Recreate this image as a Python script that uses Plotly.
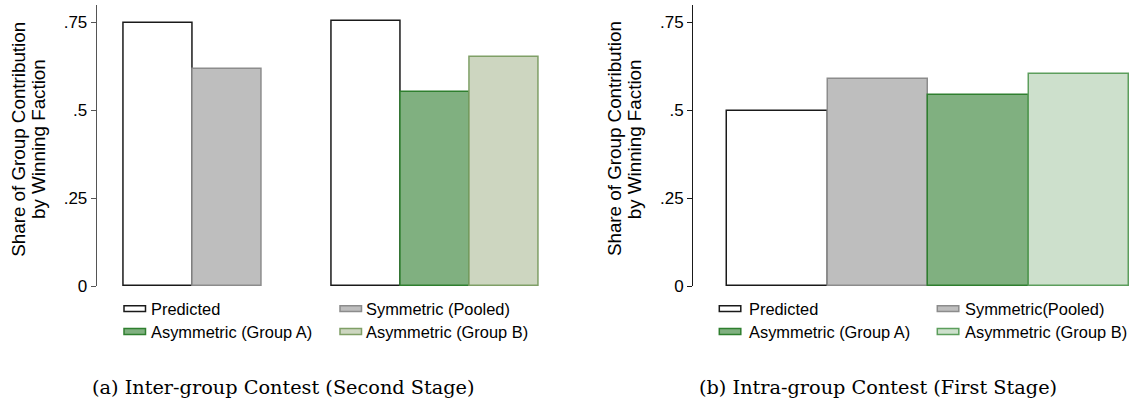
import plotly.graph_objects as go

# ---------------- data ----------------
series_names = ["Predicted", "Symmetric (Pooled)", "Asymmetric (Group A)", "Asymmetric (Group B)"]
series_names_b = ["Predicted", "Symmetric(Pooled)", "Asymmetric (Group A)", "Asymmetric (Group B)"]

# (a) Inter-group contest: symmetric treatment group, then asymmetric treatment group
inter_predicted = [0.748, 0.754]
inter_symmetric = [0.617]
inter_asym_a = [0.553]
inter_asym_b = [0.653]

# (b) Intra-group contest
intra_values = [0.500, 0.591, 0.544, 0.604]

y_ticks = [0, 0.25, 0.5, 0.75]
y_tick_labels = ["0", ".25", ".5", ".75"]

y_title_lines = ["Share of Group Contribution", "by Winning Faction"]
captions = ["(a) Inter-group Contest (Second Stage)", "(b) Intra-group Contest (First Stage)"]

# ---------------- styles ----------------
W, H = 1134, 415
fills_a = ["#ffffff", "#bebebe", "#80b080", "#cdd6c0"]
lines_a = ["#1a1a1a", "#8c8c8c", "#2f7f2f", "#7f9f66"]
fills_b = ["#ffffff", "#bebebe", "#80b080", "#cde0cc"]
lines_b = ["#1a1a1a", "#8c8c8c", "#2f7f2f", "#5c9e5c"]
SANS = "Liberation Sans, Arial, sans-serif"
SERIF = "DejaVu Serif, serif"


def px(x):
    return x / W


def py(y):
    return 1 - y / H


fig = go.Figure()

# bar positions (layout): group 1 -> slots 0,1 ; gap ; group 2 -> slots 3,4,5
pos_pred = [0, 3]
pos_sym = [1]
pos_a = [4]
pos_b = [5]

for name, xs, ys, fc, lc in [
    (series_names[0], pos_pred, inter_predicted, fills_a[0], lines_a[0]),
    (series_names[1], pos_sym, inter_symmetric, fills_a[1], lines_a[1]),
    (series_names[2], pos_a, inter_asym_a, fills_a[2], lines_a[2]),
    (series_names[3], pos_b, inter_asym_b, fills_a[3], lines_a[3]),
]:
    fig.add_trace(go.Bar(x=xs, y=ys, name=name, width=1, xaxis="x", yaxis="y",
                         marker=dict(color=fc, line=dict(color=lc, width=1.5)),
                         showlegend=False))

for i, (name, v) in enumerate(zip(series_names_b, intra_values)):
    fig.add_trace(go.Bar(x=[i], y=[v], name=name, width=1, xaxis="x2", yaxis="y2",
                         marker=dict(color=fills_b[i], line=dict(color=lines_b[i], width=1.5)),
                         showlegend=False))

ydom = [py(293.3), py(5)]
yax = dict(range=[0, 0.8], tickvals=y_ticks, ticktext=y_tick_labels, ticks="outside",
           ticklen=5, tickwidth=1, showline=True, linewidth=1, showgrid=False,
           zeroline=False, tickfont=dict(family=SANS, size=17, color="#000"), domain=ydom)
xax = dict(visible=False, showgrid=False, zeroline=False)

fig.update_layout(
    width=W, height=H, margin=dict(l=0, r=0, t=0, b=0),
    paper_bgcolor="white", plot_bgcolor="white",
    barmode="overlay", bargap=0,
    xaxis=dict(xax, domain=[px(96.7), px(565.7)], range=[-0.897, 5.897]),
    yaxis=dict(yax, anchor="x", linecolor="#555", tickcolor="#555"),
    xaxis2=dict(xax, domain=[px(693), 1.0], range=[-0.843, 3.55]),
    yaxis2=dict(yax, anchor="x2", linecolor="#1a1a1a", tickcolor="#1a1a1a"),
)

annotations = []
shapes = []

# y-axis titles
for axis_x in [96.7, 693]:
    for line, off in zip(y_title_lines, [79, 58.8]):
        annotations.append(dict(x=px(axis_x - off), y=py(142.5), xref="paper", yref="paper",
                                text=line, textangle=-90, showarrow=False,
                                xanchor="center", yanchor="middle",
                                font=dict(family=SANS, size=18.8, color="#000")))

# legends (manual, 2x2 grid)
legend_specs = [
    (series_names, fills_a, lines_a, [124, 340], [151.7, 366.7]),
    (series_names_b, fills_b, lines_b, [719.3, 937.3], [750, 965.7]),
]
row_y = [316.3, 339.7]
for names, fills, lcs, sym_x, txt_x in legend_specs:
    for k, name in enumerate(names):
        r, c = divmod(k, 2)
        x0 = sym_x[c]
        yc = row_y[r]
        shapes.append(dict(type="rect", xref="paper", yref="paper",
                           x0=px(x0), x1=px(x0 + 21.5), y0=py(yc + 3), y1=py(yc - 3),
                           fillcolor=fills[k], line=dict(color=lcs[k], width=1.5)))
        annotations.append(dict(x=px(txt_x[c] - 3), y=py(yc), xref="paper", yref="paper",
                                text=name, showarrow=False, xanchor="left", yanchor="middle",
                                font=dict(family=SANS, size=16.4, color="#000")))

# captions
for cap, cx in zip(captions, [283, 878]):
    annotations.append(dict(x=px(cx), y=py(396.7), xref="paper", yref="paper",
                            text=cap, showarrow=False, xanchor="center", yanchor="middle",
                            font=dict(family=SERIF, size=19.3, color="#000")))

fig.update_layout(annotations=annotations, shapes=shapes)

page_fix = (
    "document.documentElement.style.margin='0';"
    "document.documentElement.style.overflow='hidden';"
    "document.body.style.margin='0';"
    "document.body.style.overflow='hidden';"
)
fig.write_html("out.html", config={"displayModeBar": False}, post_script=page_fix)
